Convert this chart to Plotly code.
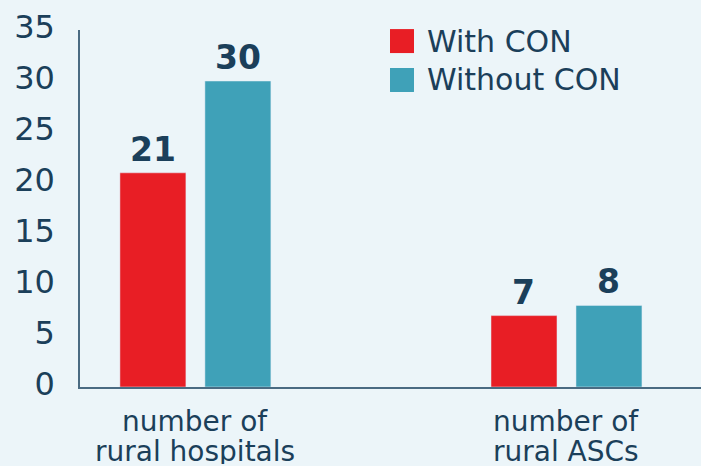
import plotly.graph_objects as go

categories = ["rural hospitals", "rural ASCs"]
category_top_line = ["number of", "number of"]
with_con = [21, 7]
without_con = [30, 8]
series_names = ["With CON", "Without CON"]
y_ticks = [0, 5, 10, 15, 20, 25, 30, 35]

RED = "#E81E25"
TEAL = "#3FA1B8"
INK = "#1B3F5A"
BG = "#ECF5F9"
FONT = "DejaVu Sans"

fig = go.Figure()
fig.add_trace(go.Bar(x=categories, y=with_con, name=series_names[0], marker_color=RED))
fig.add_trace(go.Bar(x=categories, y=without_con, name=series_names[1], marker_color=TEAL))

# value labels above bars
for vals, shift in [(with_con, -42.5), (without_con, 42.5)]:
    for cat, v in zip(categories, vals):
        fig.add_annotation(x=cat, y=v, xshift=shift, yshift=2, yanchor="bottom",
                           text=f"<b>{v}</b>", showarrow=False,
                           font=dict(family=FONT, size=33, color=INK))

# two-line category labels with tight line spacing
for cat, top in zip(categories, category_top_line):
    for txt, dy in [(top, -34), (cat, -64)]:
        fig.add_annotation(x=cat, y=0, yref="paper", yshift=dy, yanchor="middle",
                           height=26, valign="middle",
                           text=txt, showarrow=False,
                           font=dict(family=FONT, size=28, color=INK))

# legend drawn as squares + labels
for i, (name, col) in enumerate(zip(series_names, [RED, TEAL])):
    yc = 0.969 - i * 0.109
    fig.add_shape(type="rect", xref="paper", yref="paper",
                  x0=0.4992, x1=0.5378, y0=yc - 0.0336, y1=yc + 0.0336,
                  fillcolor=col, line_width=0)
    fig.add_annotation(xref="paper", yref="paper", x=0.555, y=yc,
                       xanchor="left", yanchor="middle",
                       text=name, showarrow=False,
                       font=dict(family=FONT, size=30, color=INK))

fig.update_layout(
    width=701, height=466,
    margin=dict(l=80, r=0, t=30, b=79),
    paper_bgcolor=BG, plot_bgcolor=BG,
    barmode="group", bargap=0.542, bargroupgap=0.2235,
    showlegend=False,
    font=dict(family=FONT, color=INK),
)
fig.update_xaxes(range=[-0.311, 1.3625], showline=True, linecolor="#4A6B82", linewidth=2,
                 ticks="", showticklabels=False, showgrid=False, automargin=False)
fig.update_yaxes(range=[0, 35], tickvals=y_ticks, showline=True, linecolor="#4A6B82",
                 linewidth=1.5, showgrid=False, zeroline=False, ticks="",
                 tickfont=dict(size=32, color=INK), ticklabelstandoff=17,
                 ticklabelshift=-3, automargin=False)

fig.write_html("out.html", config={"displayModeBar": False},
               post_script="document.body.style.margin='0';")
